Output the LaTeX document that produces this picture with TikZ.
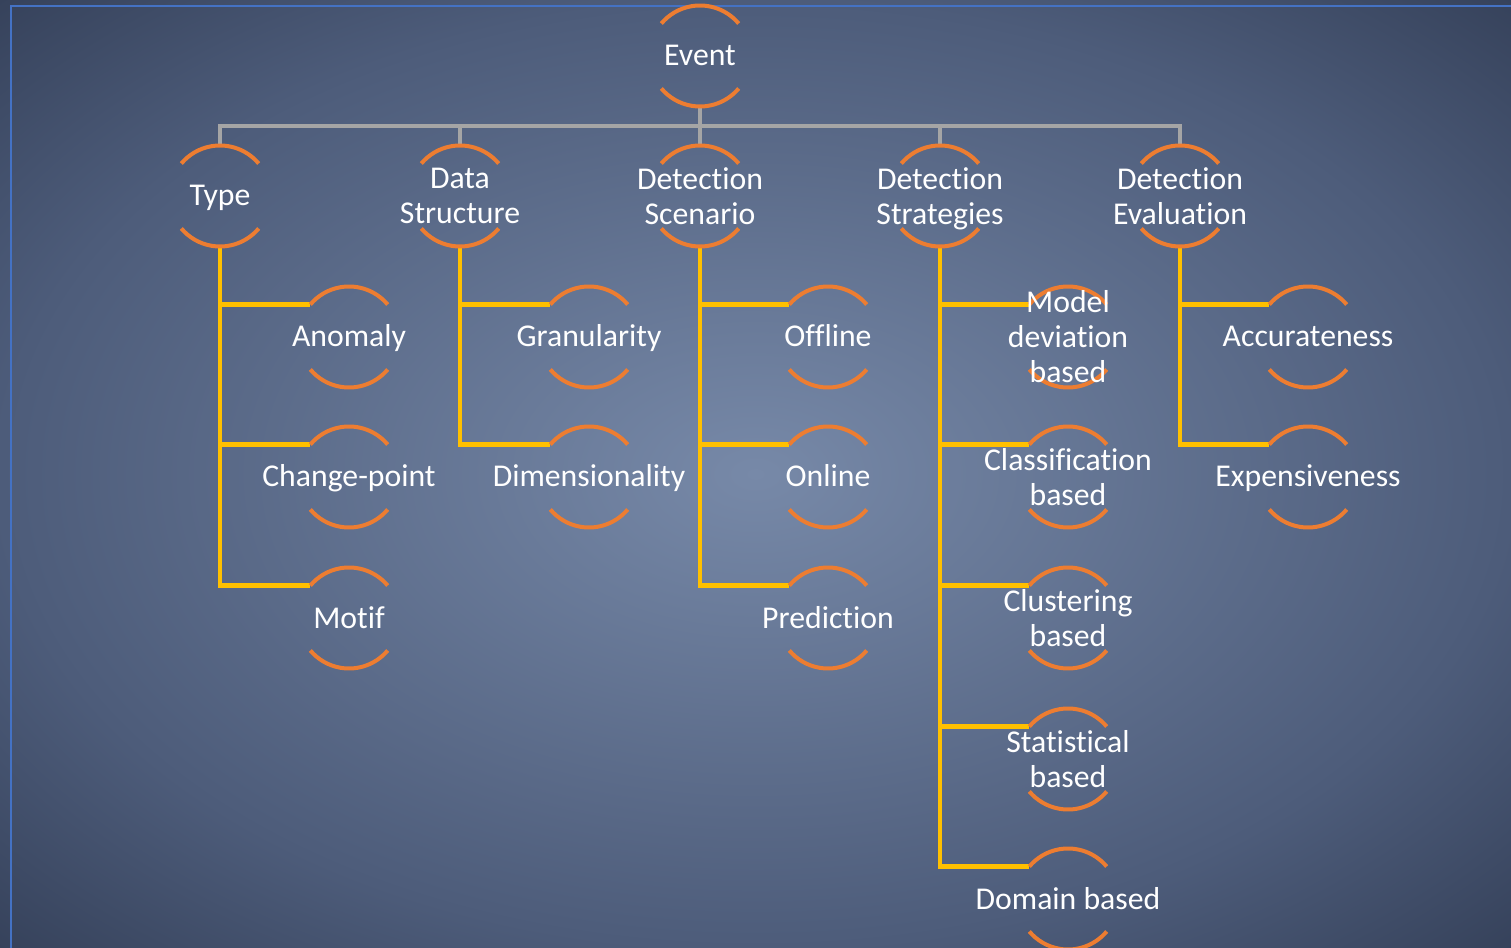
\documentclass[tikz,border=0pt]{standalone}
\usepackage{fontspec}
\setmainfont{Carlito}[Ligatures={NoCommon}]
\usetikzlibrary{calc}
\definecolor{arcorange}{HTML}{ED7D31}
\definecolor{connyellow}{HTML}{FFC000}
\definecolor{conngray}{HTML}{A5A5A5}
\definecolor{framblue}{HTML}{4472C4}
\definecolor{bgin}{HTML}{7789A8}
\definecolor{bgmid}{HTML}{4D5C7A}
\definecolor{bgout}{HTML}{36425B}
\pgfdeclareradialshading{slidebg}{\pgfpoint{0bp}{0bp}}{color(0bp)=(bgin); color(25bp)=(bgmid); color(35.4bp)=(bgout); color(50bp)=(bgout)}
\pgfdeclarelayer{backdrop}
\pgfdeclarelayer{lines}
\pgfsetlayers{backdrop,lines,main}
\newcommand\lnstrut{\rule[-5.5pt]{0pt}{26pt}}
\tikzset{
  mlbl/.style={font=\fontsize{23.8}{26.25}\selectfont, text=white, align=center, inner sep=0pt},
  lbl/.style={mlbl, execute at begin node=\lnstrut, execute at end node=\lnstrut},
  arcline/.style={draw=arcorange, line width=3pt},
  yconn/.style={draw=connyellow, line width=3.3pt},
  gconn/.style={draw=conngray, line width=3pt},
}
\newcommand\bracketarcs[1]{%
  \draw[arcline] ([shift={(40:37.875pt)}]#1.center) arc[start angle=40,end angle=140,radius=37.875pt];
  \draw[arcline] ([shift={(-40:37.875pt)}]#1.center) arc[start angle=-40,end angle=-140,radius=37.875pt];}
\newcommand\ylink[2]{%
  \draw[yconn] ([yshift=-37.875pt]#1.center) |- ([shift={(140:37.875pt)}]#2.center);}
\newcommand\glink[1]{%
  \draw[gconn] ([yshift=-37.875pt]event.center) -- ++(0,-20) -| ([yshift=37.875pt]#1.center);}
\begin{document}
\begin{tikzpicture}[x=0.75pt,y=0.75pt]
\useasboundingbox (0,0) rectangle (1511,-948);
\begin{pgfonlayer}{backdrop}
  \path[shading=slidebg] (0,0) rectangle (1511,-948);
  \draw[framblue, line width=2pt] (11,-960) -- (11,-6) -- (1520,-6);
\end{pgfonlayer}
\node[lbl] (event) at (700,-56) {Event};
\node[lbl] (type) at (220,-196) {Type};
\node[mlbl] (data) at (460,-196) {Data\\Structure};
\node[mlbl] (scen) at (700,-196) {Detection\\Scenario};
\node[mlbl] (strat) at (940,-196) {Detection\\Strate\smash{g}ies};
\node[mlbl] (eval) at (1180,-196) {Detection\\Evaluation};
\node[lbl] (anom) at (349,-337) {Anomaly};
\node[lbl] (chg) at (349,-477) {Change-point};
\node[lbl] (motif) at (349,-618) {Motif};
\node[lbl] (gran) at (589,-337) {Granularity};
\node[lbl] (dim) at (589,-477) {Dimensionality};
\node[lbl] (off) at (828,-337) {Offline};
\node[lbl] (on) at (828,-477) {Online};
\node[lbl] (pred) at (828,-618) {Prediction};
\node[mlbl] (model) at (1068,-337) {Model\\deviation\\based};
\node[mlbl] (class) at (1068,-477) {Classification\\based};
\node[mlbl] (clust) at (1068,-618) {Clustering\\based};
\node[mlbl] (stat) at (1068,-759) {Statistical\\based};
\node[lbl] (dom) at (1068,-899) {Domain based};
\node[lbl] (acc) at (1308,-337) {Accurateness};
\node[lbl] (exp) at (1308,-477) {Expensiveness};
\begin{pgfonlayer}{lines}
  \foreach \n in {type,data,scen,strat,eval} {\glink{\n}}
  \ylink{type}{anom}\ylink{type}{chg}\ylink{type}{motif}
  \ylink{data}{gran}\ylink{data}{dim}
  \ylink{scen}{off}\ylink{scen}{on}\ylink{scen}{pred}
  \ylink{strat}{model}\ylink{strat}{class}\ylink{strat}{clust}\ylink{strat}{stat}\ylink{strat}{dom}
  \ylink{eval}{acc}\ylink{eval}{exp}
  \foreach \n in {event,type,data,scen,strat,eval,anom,chg,motif,gran,dim,off,on,pred,model,class,clust,stat,dom,acc,exp} {\bracketarcs{\n}}
\end{pgfonlayer}
\end{tikzpicture}
\end{document}
